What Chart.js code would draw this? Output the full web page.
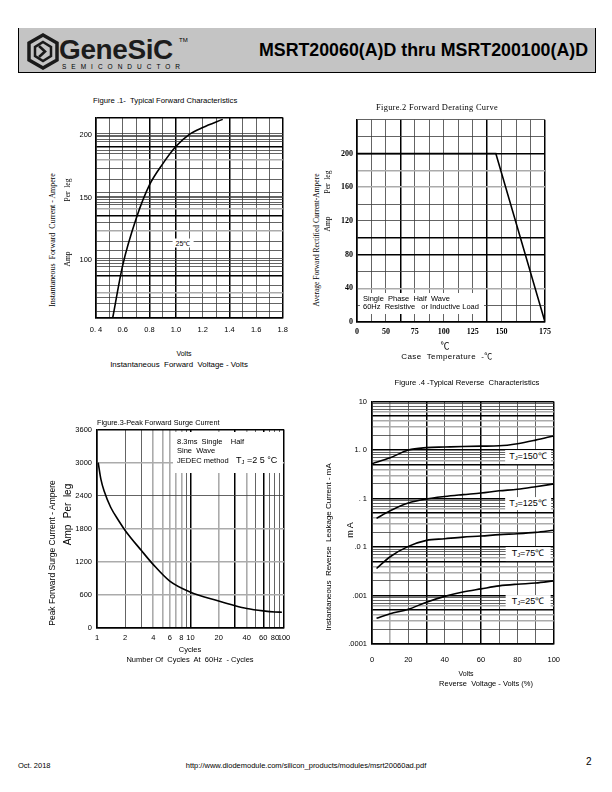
<!DOCTYPE html>
<html><head><meta charset="utf-8">
<script src="https://cdn.jsdelivr.net/npm/chart.js"></script>
<style>
html,body{margin:0;padding:0;background:#fff;}
body{width:612px;height:792px;position:relative;overflow:hidden;font-family:"Liberation Sans",Arial,sans-serif;color:#000;}
.t{position:absolute;white-space:pre;line-height:1;transform:translate(-50%,-50%);}
.l{position:absolute;white-space:pre;line-height:1;transform:translateY(-50%);}
.r{position:absolute;white-space:pre;line-height:1;transform:translate(-50%,-50%) rotate(-90deg);}
.serif{font-family:"Liberation Serif","DejaVu Serif",serif;}
canvas{position:absolute;}
.wb{position:absolute;background:#fff;}
sub{font-size:65%;vertical-align:-1px;}
</style></head><body>

<!-- header -->
<div style="position:absolute;left:18px;top:28px;width:576px;height:44px;background:#c4c4c4;border-left:1.5px solid #000;border-right:1.5px solid #000;border-bottom:1.5px solid #000;"></div>
<svg style="position:absolute;left:26px;top:33px" width="34" height="37" viewBox="0 0 34 37">
 <polygon points="17,2 31,10 31,27 17,35 3,27 3,10" fill="none" stroke="#1a1a1a" stroke-width="3.5"/>
 <polygon points="17,9 25,14 25,23 17,28 9,23 9,14" fill="none" stroke="#1a1a1a" stroke-width="2.5"/>
 <path d="M13,13 L19,18.5 L13,24" fill="none" stroke="#1a1a1a" stroke-width="2.6"/>
</svg>
<div class="l" style="left:59px;top:50px;font-size:28px;font-weight:bold;color:#1c1c1c;letter-spacing:-0.4px;">GeneSiC</div>
<div class="l" style="left:179px;top:40px;font-size:6px;">TM</div>
<div class="l" style="left:62px;top:67px;font-size:6.5px;letter-spacing:5px;">SEMICONDUCTOR</div>
<div class="l" style="right:24px;top:51px;font-size:17.8px;font-weight:bold;">MSRT20060(A)D thru MSRT200100(A)D</div>

<canvas id="c1"></canvas>
<canvas id="c2"></canvas>
<canvas id="c3"></canvas>
<canvas id="c4"></canvas>

<!-- figure 1 texts -->
<div class="l" style="left:93px;top:101px;font-size:7.7px;">Figure .1-  Typical Forward Characteristics</div>
<div class="t wb" style="left:183px;top:243px;font-size:7px;padding:1px 3px;">25℃</div>
<div class="r serif" style="left:53px;top:240px;font-size:7.9px;">Instantaneous  Forward  Current - Ampere</div>
<div class="r serif" style="left:68px;top:190px;font-size:7.5px;">Per  leg</div>
<div class="r serif" style="left:68px;top:259px;font-size:7.5px;">Amp</div>
<div class="t" style="left:184px;top:353px;font-size:7px;">Volts</div>
<div class="t" style="left:179px;top:365px;font-size:7.9px;">Instantaneous  Forward  Voltage - Volts</div>

<!-- figure 2 texts -->
<div class="t serif" style="left:437px;top:108px;font-size:8.4px;letter-spacing:0.3px;">Figure.2 Forward Derating Curve</div>
<div class="r serif" style="left:317px;top:240px;font-size:7.5px;">Average Forward Rectified Current-Ampere</div>
<div class="r serif" style="left:328px;top:182px;font-size:7.5px;">Per  leg</div>
<div class="r serif" style="left:328px;top:224px;font-size:7.5px;">Amp</div>
<div class="t" style="left:445px;top:345px;font-size:9px;font-family:'Noto Sans CJK SC',sans-serif;">℃</div>
<div class="t" style="left:447px;top:356px;font-size:8px;letter-spacing:0.4px;">Case  Temperature  -<span style="font-family:'Noto Sans CJK SC',sans-serif;">℃</span></div>
<div class="wb" style="left:360px;top:293px;width:124px;height:21px;"></div>
<div class="l" style="left:363px;top:298.5px;font-size:7.5px;">Single  Phase  Half  Wave</div>
<div class="l" style="left:363px;top:307px;font-size:7.5px;">60Hz  Resistive   or Inductive Load</div>

<!-- figure 3 texts -->
<div class="l" style="left:97px;top:423px;font-size:7.3px;">Figure.3-Peak Forward Surge Current</div>
<div class="wb" style="left:173px;top:432px;width:110px;height:41px;"></div>
<div class="l" style="left:177px;top:441.5px;font-size:7.5px;">8.3ms  Single    Half</div>
<div class="l" style="left:177px;top:451px;font-size:7.5px;">Sine  Wave</div>
<div class="l" style="left:177px;top:460.5px;font-size:7.5px;">JEDEC method</div>
<div class="l" style="left:236px;top:461px;font-size:9px;">T<sub>J</sub> =2 5 °C</div>
<div class="r" style="left:52px;top:553px;font-size:8.5px;">Peak Forward Surge Current - Ampere</div>
<div class="r" style="left:68px;top:501px;font-size:10px;">Per  leg</div>
<div class="r" style="left:68px;top:535px;font-size:10px;">Amp</div>
<div class="t" style="left:190px;top:650px;font-size:7.5px;">Cycles</div>
<div class="t" style="left:190px;top:660px;font-size:7.5px;">Number Of  Cycles  At  60Hz  - Cycles</div>

<!-- figure 4 texts -->
<div class="t" style="left:467px;top:383px;font-size:7.7px;">Figure .4 -Typical Reverse  Characteristics</div>
<div class="t wb" style="left:528px;top:457px;font-size:9px;padding:2px 4px;">T<sub>J</sub>=150℃</div>
<div class="t wb" style="left:528px;top:503.5px;font-size:9px;padding:2px 4px;">T<sub>J</sub>=125℃</div>
<div class="t wb" style="left:528px;top:554px;font-size:9px;padding:2px 6px;">T<sub>J</sub>=75℃</div>
<div class="t wb" style="left:528px;top:602px;font-size:9px;padding:2px 6px;">T<sub>J</sub>=25℃</div>
<div class="r" style="left:329px;top:547px;font-size:8px;">Instantaneous  Reverse  Leakage Current - mA</div>
<div class="r" style="left:350px;top:530px;font-size:9px;">m A</div>
<div class="t" style="left:466px;top:673px;font-size:7px;">Volts</div>
<div class="t" style="left:486px;top:684px;font-size:7.5px;">Reverse  Voltage - Volts (%)</div>

<!-- footer -->
<div class="l" style="left:18px;top:766px;font-size:7.5px;">Oct. 2018</div>
<div class="t" style="left:306px;top:766px;font-size:7.5px;">http://www.diodemodule.com/silicon_products/modules/msrt20060ad.pdf</div>
<div class="l" style="left:586px;top:762px;font-size:10px;">2</div>

<script>
// ---------- Figure 1: Typical Forward Characteristics ----------
const fwdVolts = [0.525, 0.6, 0.7, 0.8, 0.9, 1.0, 1.1, 1.2, 1.35];
const fwdAmps  = [54, 96, 133, 160, 177, 191, 200.5, 206, 212.5];
const fig1XGrid = [0.4,0.5,0.6,0.7,0.8,0.9,1.0,1.1,1.2,1.3,1.4,1.5,1.6,1.7,1.8];
const fig1XBold = [0.8, 1.0, 1.4];
const fig1XTickVals = [0.4,0.6,0.8,1.0,1.2,1.4,1.6,1.8];
const fig1XTickLabels = ['0. 4','0.6','0.8','1.0','1.2','1.4','1.6','1.8'];
const fig1YGrid = [54,59.5,65.6,70,74.3,80,87.5,91.3,94.7,97.4,100,101.8,108,115.3,123.8,130.4,135.8,141.1,144.2,146.3,148.2,150,151.2,154.2,164.9,173.6,180.2,185.5,187.4,190.8,194.7,196.6,198.5,200,201.3,214];
const fig1YBold = [87.5, 135.8, 190.8];
const fig1YGray = [74.3, 123.8, 141.1, 180.2];
const fig1YTickVals = [100, 150, 200];
const fig1YTickLabels = ['100','150','200'];

// ---------- Figure 2: Forward Derating Curve ----------
const caseTemp = [25, 145, 187.5];
const deratedAmps = [200, 200, 0];
const fig2XGrid = [25,37.5,50,62.5,75,87.5,100,112.5,125,137.5,150,162.5,175,187.5];
const fig2XBold = [62.5, 137.5];
const fig2XTickVals = [25,50,75,100,125,150,187.5];
const fig2XTickLabels = ['0','50','75','100','125','150','175'];
const fig2YGrid = [0,20,40,60,80,100,120,140,160,180,200,220,240];
const fig2YBold = [80, 100, 200];
const fig2YGray = [40, 160, 180];
const fig2YTickVals = [0,40,80,120,160,200];
const fig2YTickLabels = ['0','40','80','120','160','200'];

// ---------- Figure 3: Peak Forward Surge Current ----------
const surgeCycles = [1.03, 1.1, 1.2, 1.4, 1.7, 2, 3, 4, 6, 10, 20, 30, 40, 60, 80, 95];
const surgeAmps   = [3000, 2700, 2470, 2190, 1950, 1770, 1400, 1150, 850, 650, 490, 405, 355, 311, 290, 286];
const fig3XGrid = [1,2,3,4,5,6,7,8,9,10,20,30,40,50,60,70,80,90,100];
const fig3XBold = [10, 30, 60];
const fig3XGray = [4,5,6,7,8,20,40];
const fig3XTickVals = [1,2,4,6,8,10,20,40,60,80,100];
const fig3XTickLabels = ['1','2','4','6','8','10','20','40','60','80','100'];
const fig3YGrid = [0,600,1200,1800,2400,3000,3600];
const fig3YGray = [600,1200,1800,3000];
const fig3YTickVals = [0,600,1200,1800,2400,3000,3600];
const fig3YTickLabels = ['0','600','1200','1800','2400','3000','3600'];

// ---------- Figure 4: Typical Reverse Characteristics ----------
const revVolts150 = [0, 10, 20, 30, 40, 50, 60, 70, 80, 90, 100];
const rev150 = [0.52, 0.69, 1.0, 1.12, 1.15, 1.18, 1.2, 1.22, 1.35, 1.6, 1.95];
const revVolts = [2.5, 10, 20, 30, 40, 50, 60, 70, 80, 90, 100];
const rev125 = [0.039, 0.056, 0.081, 0.098, 0.11, 0.12, 0.13, 0.144, 0.155, 0.175, 0.2];
const rev75  = [0.0036, 0.0063, 0.0103, 0.0137, 0.0148, 0.016, 0.0168, 0.018, 0.0188, 0.02, 0.0221];
const rev25  = [0.00034, 0.00042, 0.00052, 0.00073, 0.00096, 0.00118, 0.00137, 0.00158, 0.00171, 0.00181, 0.0020];
const fig4XGrid = [0,10,20,30,40,50,60,70,80,90,100];
const fig4XBold = [30, 60];
const fig4XGray = [10];
const fig4XTickVals = [0,20,40,60,80,100];
const fig4XTickLabels = ['0','20','40','60','80','100'];
const fig4Decades = [0.0001, 0.001, 0.01, 0.1, 1];
const fig4Mult = [1,2,3,4,5,6,7,8,9];
const fig4YTickVals = [10, 1, 0.1, 0.01, 0.001, 0.0001];
const fig4YTickLabels = ['10','1. 0','. 1','.0 1','.001','.0001'];

// ---------- helpers ----------
Chart.defaults.font.family = '"Liberation Sans", Arial, sans-serif';
Chart.defaults.color = '#000';
const near = (a, b) => Math.abs(a - b) <= 1e-12 + Math.abs(b) * 1e-6;
const has = (list, v) => list.some(x => near(v, x));
function labeler(vals, labs) {
  return v => { for (let i = 0; i < vals.length; i++) if (near(v, vals[i])) return labs[i]; return ''; };
}
function styler(edges, bold, gray) {
  const cls = v => {
    if (has(edges, v) || has(bold, v)) return 'B';
    if (has(gray, v)) return 'G';
    return 'D';
  };
  return {
    color: c => { const k = cls(c.tick.value); return k === 'B' ? '#000' : k === 'G' ? '#ababab' : '#3c3c3c'; },
    lineWidth: c => { const k = cls(c.tick.value); return k === 'B' ? 1.5 : k === 'G' ? 1.6 : 0.8; }
  };
}
function axis(type, min, max, grid, label, style, font, pad, fit, isX) {
  return {
    type, min, max,
    afterBuildTicks: s => { s.ticks = grid.map(v => ({ value: v })); },
    afterFit: s => { if (isX) s.height = fit; else s.width = fit; },
    grid: { drawTicks: false, color: style.color, lineWidth: style.lineWidth },
    border: { display: true, color: '#000', width: 1.5 },
    ticks: { autoSkip: false, maxRotation: 0, minRotation: 0, padding: pad, font, color: '#000',
             callback: v => label(v) }
  };
}
function place(id, L, T, R, B, padL, padT, padR, padB) {
  const c = document.getElementById(id);
  const w = Math.round(R - L + padL + padR), h = Math.round(B - T + padT + padB);
  c.width = w; c.height = h;
  c.style.left = (L - padL) + 'px'; c.style.top = (T - padT) + 'px';
  c.style.width = w + 'px'; c.style.height = h + 'px';
  return c;
}
const pts = (xs, ys) => xs.map((x, i) => ({ x, y: ys[i] }));
function line(xs, ys, straight) {
  return { data: pts(xs, ys), borderColor: '#000', borderWidth: 1.6, pointRadius: 0,
           fill: false, cubicInterpolationMode: straight ? 'default' : 'monotone', tension: straight ? 0 : 0.4 };
}
function chart(canvas, datasets, xAx, yAx, padT, padR) {
  return new Chart(canvas, {
    type: 'line',
    data: { datasets },
    options: {
      responsive: false, animation: false, events: [],
      layout: { padding: { top: padT, right: padR, left: 0, bottom: 0 } },
      plugins: { legend: { display: false }, tooltip: { enabled: false } },
      scales: { x: xAx, y: yAx }
    }
  });
}
const tickFont = { size: 7.5 };
const serifBold = { size: 8, weight: 'bold', family: '"Liberation Serif", serif' };

// Figure 1
{
  const c = place('c1', 96, 117, 283, 318, 30, 8, 12, 20);
  chart(c, [line(fwdVolts, fwdAmps)],
    axis('linear', 0.4, 1.8, fig1XGrid, labeler(fig1XTickVals, fig1XTickLabels),
         styler([0.4, 1.8], fig1XBold, []), tickFont, 7, 20, true),
    axis('linear', 54, 214, fig1YGrid, labeler(fig1YTickVals, fig1YTickLabels),
         styler([54, 214], fig1YBold, fig1YGray), tickFont, 4, 30, false), 8, 12);
}
// Figure 2
{
  const c = place('c2', 357, 119, 545, 322, 30, 8, 12, 20);
  chart(c, [line(caseTemp, deratedAmps, true)],
    axis('linear', 25, 187.5, fig2XGrid, labeler(fig2XTickVals, fig2XTickLabels),
         styler([25, 187.5], fig2XBold, []), serifBold, 5, 20, true),
    axis('linear', 0, 240, fig2YGrid, labeler(fig2YTickVals, fig2YTickLabels),
         styler([0], fig2YBold, fig2YGray), serifBold, 4, 30, false), 8, 12);
}
// Figure 3
{
  const c = place('c3', 97, 428, 284, 628, 30, 8, 12, 20);
  chart(c, [line(surgeCycles, surgeAmps)],
    axis('logarithmic', 1, 100, fig3XGrid, labeler(fig3XTickVals, fig3XTickLabels),
         styler([1, 100], fig3XBold, fig3XGray), tickFont, 5, 20, true),
    axis('linear', 0, 3600, fig3YGrid, labeler(fig3YTickVals, fig3YTickLabels),
         styler([0, 3600], [], fig3YGray), tickFont, 5, 30, false), 8, 12);
}
// Figure 4
{
  const yGrid = [];
  fig4Decades.forEach(d => fig4Mult.forEach(m => yGrid.push(+(d * m).toPrecision(6))));
  yGrid.push(10);
  const yBold = [];
  const yGray = [];
  fig4Decades.forEach(d => { yBold.push(+(d * 5).toPrecision(6)); yGray.push(+(d * 3).toPrecision(6), +(d * 4).toPrecision(6), +(d * 6).toPrecision(6)); });
  const st = styler([0.0001, 10, 1, 0.1, 0.01, 0.001], yBold, yGray);
  const c = place('c4', 372, 400, 559, 644, 30, 8, 12, 24);
  chart(c, [line(revVolts150, rev150), line(revVolts, rev125), line(revVolts, rev75), line(revVolts, rev25)],
    axis('linear', 0, 100, fig4XGrid, labeler(fig4XTickVals, fig4XTickLabels),
         styler([0, 100], fig4XBold, fig4XGray), tickFont, 11, 24, true),
    axis('logarithmic', 0.0001, 10, yGrid, labeler(fig4YTickVals, fig4YTickLabels),
         st, tickFont, 5, 30, false), 8, 12);
}
</script>
</body></html>
